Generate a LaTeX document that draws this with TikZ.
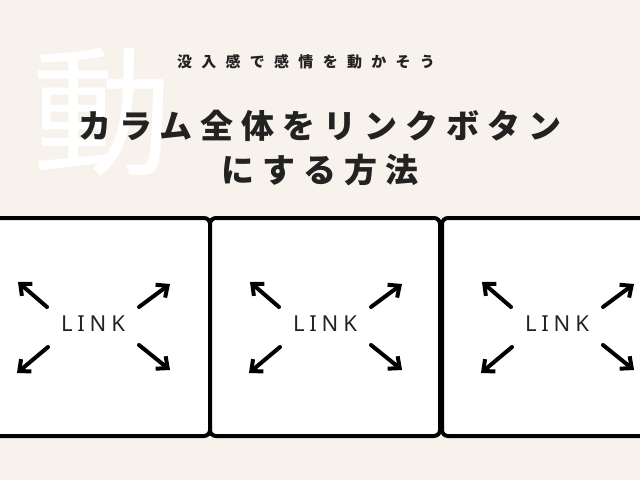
\documentclass[tikz,border=0pt]{standalone}
\usepackage{fontspec}
\newfontfamily\jp{Noto Sans CJK JP}[LetterSpace=24]
\newfontfamily\jpsub{Noto Sans CJK JP}[LetterSpace=62]
\newfontfamily\jpl{Noto Sans CJK JP}
\newfontfamily\lnk{Noto Sans}[LetterSpace=22]
\usetikzlibrary{arrows.meta}
\definecolor{bg}{HTML}{F7F3EC}
\definecolor{ink}{HTML}{222222}
\begin{document}
\begin{tikzpicture}[x=1pt,y=-1pt,
  card/.style={draw=black,line width=4pt,fill=white,rounded corners=6pt},
  arr/.style={line width=4pt,line cap=round,-{Straight Barb[length=9pt,width=16pt,line width=4pt]}},
  lbl/.style={font=\lnk\fontsize{22}{22}\selectfont,text=ink}]
\useasboundingbox (0,0) rectangle (640,480);
\fill[bg] (0,0) rectangle (640,480);
\node[font=\jpl\fontsize{140}{140}\selectfont,text=white] (bigk) at (102,112) {動};
\node[font=\jpsub\fontsize{15}{15}\selectfont\bfseries,text=ink] (sub) at (306,62) {没入感で感情を動かそう};
\node[font=\jp\fontsize{33}{33}\selectfont\bfseries,text=ink] (t1) at (320,126) {カラム全体をリンクボタン};
\node[font=\jp\fontsize{33}{33}\selectfont\bfseries,text=ink] (t2) at (320,170) {にする方法};
\foreach \i/\x in {1/-20,2/210,3/442}{
  \draw[card] (\x,218) rectangle ++(230,218);
}
\foreach \i/\c in {1/93,2/325,3/557}{
  \node[lbl] (l\i) at (\c,324) {LINK};
  \coordinate (a\i) at (\c-46,307); \coordinate (ah\i) at (\c-75,282);
  \coordinate (b\i) at (\c+46,307); \coordinate (bh\i) at (\c+77,284);
  \coordinate (c\i) at (\c-45,347); \coordinate (ch\i) at (\c-76,373);
  \coordinate (d\i) at (\c+46,345); \coordinate (dh\i) at (\c+77,370);
  \draw[arr] (a\i) -- (ah\i);
  \draw[arr] (b\i) -- (bh\i);
  \draw[arr] (c\i) -- (ch\i);
  \draw[arr] (d\i) -- (dh\i);
}
\end{tikzpicture}
\end{document}
